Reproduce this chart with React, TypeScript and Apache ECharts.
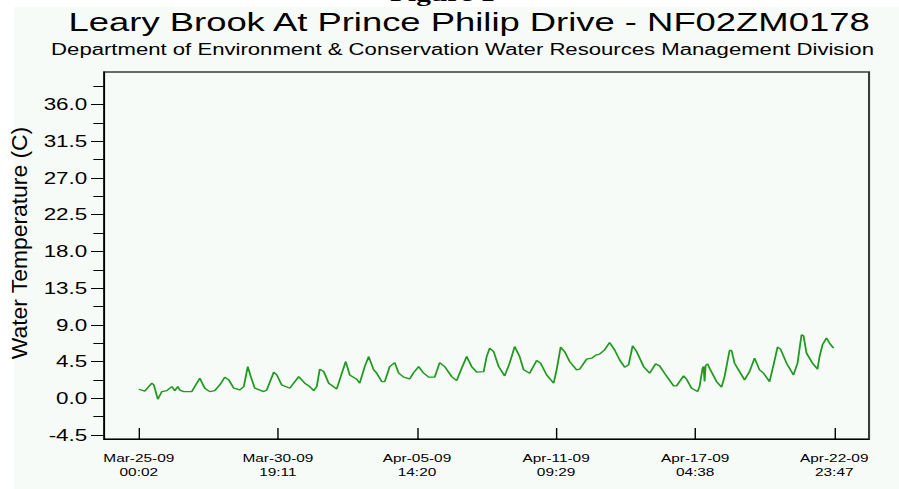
import React, { useEffect, useRef } from "react";
import * as echarts from "echarts";

// Hours since Mar-25-09 00:02 and water temperature (C)
const sampleHours = [
  0, 6, 13, 15, 19, 23, 28, 33, 36, 39, 41, 45, 53, 56, 61, 66, 71, 76, 81, 86,
  90, 95, 101, 105, 109, 112, 116, 125, 128, 135, 138, 143, 151, 160, 166, 171, 175, 178, 181, 185,
  190, 198, 202, 207, 211, 218, 221, 226, 230, 235, 238, 243, 246, 251, 256, 260, 265, 271, 275, 280,
  285, 290, 296, 301, 306, 313, 318, 323, 328, 333, 338, 345, 348, 351, 355, 360, 366, 371, 376, 381,
  385, 391, 398, 402, 408, 415, 418, 422, 426, 431, 438, 441, 448, 453, 458, 461, 466, 471, 476, 481,
  486, 490, 494, 498, 505, 511, 517, 521, 526, 535, 538, 545, 548, 553, 559, 561, 564, 565, 566, 567,
  569, 571, 578, 583, 586, 591, 593, 596, 606, 611, 616, 621, 625, 631, 635, 639, 642, 648, 655, 659,
  663, 665, 668, 674, 679, 681, 684, 688, 691, 695,
];
const waterTemp = [
  1.1, 0.86, 1.84, 1.63, -0.12, 0.81, 0.93, 1.43, 0.93, 1.43, 1.0, 0.81, 0.81, 1.43, 2.46, 1.23, 0.81, 0.93, 1.63, 2.58,
  2.25, 1.23, 1.02, 1.43, 3.88, 2.65, 1.23, 0.81, 1.02, 3.19, 2.86, 1.63, 1.23, 2.65, 1.84, 1.43, 0.93, 1.43, 3.56, 3.27,
  1.84, 1.14, 2.65, 4.5, 2.86, 2.33, 1.84, 3.88, 5.11, 3.48, 3.07, 2.04, 2.04, 3.88, 4.37, 3.07, 2.58, 2.37, 3.15, 3.88,
  3.07, 2.58, 2.58, 4.37, 3.88, 2.65, 2.16, 3.68, 5.11, 3.88, 3.19, 3.27, 5.11, 6.14, 5.72, 3.88, 2.74, 4.3, 6.34, 5.11,
  3.48, 3.07, 4.62, 4.3, 2.86, 1.84, 3.48, 6.27, 5.72, 4.5, 3.48, 3.56, 4.79, 4.91, 5.32, 5.4, 5.93, 6.83, 5.93, 4.7,
  3.81, 4.09, 6.43, 5.72, 3.88, 3.07, 4.21, 3.97, 3.07, 1.51, 1.51, 2.74, 2.33, 1.23, 0.81, 1.43, 3.68, 3.88, 2.04, 4.0,
  4.21, 3.68, 2.04, 1.35, 2.65, 5.85, 5.85, 4.3, 2.25, 3.27, 4.91, 3.48, 3.07, 2.04, 4.09, 6.27, 6.02, 4.3, 2.86, 4.3,
  7.78, 7.65, 5.53, 4.3, 3.56, 5.11, 6.55, 7.37, 6.76, 6.14,
];

// x ticks (hours since start) and their labels
const tickHours = [0, 139.15, 278.3, 417.45, 556.6, 695.75];
const tickLabels = [
  "Mar-25-09\n00:02",
  "Mar-30-09\n19:11",
  "Apr-05-09\n14:20",
  "Apr-11-09\n09:29",
  "Apr-17-09\n04:38",
  "Apr-22-09\n23:47",
];

// y ticks
const yLabelValues = [-4.5, 0, 4.5, 9, 13.5, 18, 22.5, 27, 31.5, 36];
const yMinorValues = [-2.25, 2.25, 6.75, 11.25, 15.75, 20.25, 24.75, 29.25, 33.75, 38.25];

const titleText = "Leary Brook At Prince Philip Drive - NF02ZM0178";
const subtitleText =
  "Department of Environment & Conservation Water Resources Management Division";
const yAxisTitle = "Water Temperature (C)";
const captionText = "Figure 1";

const SX = 899 / 642;

export default function App() {
  const ref = useRef<HTMLDivElement>(null);

  useEffect(() => {
    if (!ref.current) return;
    const chart = echarts.init(ref.current, undefined, { renderer: "svg" });
    const data = sampleHours.map((h, i) => [h, waterTemp[i]]);
    const font = "'Liberation Sans', Arial, sans-serif";
    chart.setOption({
      animation: false,
      backgroundColor: "transparent",
      grid: {
        left: 74.3,
        right: 21.4,
        top: 72,
        bottom: 50,
        show: true,
        borderColor: "#3a3a3a",
        borderWidth: 1.5,
        backgroundColor: "transparent",
      },
      graphic: [
        {
          type: "text",
          x: 316,
          y: 5,
          style: {
            text: captionText,
            font: "bold 21px 'Liberation Serif', serif",
            fill: "#000",
            textAlign: "center",
            textVerticalAlign: "bottom",
          },
        },
        {
          type: "text",
          x: 335,
          y: 22,
          style: {
            text: titleText,
            font: `26px ${font}`,
            fill: "#000",
            textAlign: "center",
            textVerticalAlign: "middle",
          },
        },
        {
          type: "text",
          x: 330.3,
          y: 50,
          style: {
            text: subtitleText,
            font: `15.8px ${font}`,
            fill: "#000",
            textAlign: "center",
            textVerticalAlign: "middle",
          },
        },
        {
          type: "text",
          x: 14.3,
          y: 243,
          rotation: Math.PI / 2,
          scaleX: 1.43,
          style: {
            text: yAxisTitle,
            font: `16px ${font}`,
            fill: "#000",
            textAlign: "center",
            textVerticalAlign: "middle",
          },
        },
      ],
      xAxis: {
        type: "value",
        min: -34.79,
        max: 730.54,
        splitLine: { show: false },
        axisLine: { show: true, onZero: false, lineStyle: { color: "#000", width: 1 } },
        axisTick: {
          show: true,
          inside: true,
          length: 11,
          customValues: tickHours,
          lineStyle: { color: "#000", width: 1 },
        },
        axisLabel: {
          customValues: tickHours,
          margin: 12,
          fontSize: 11,
          lineHeight: 14,
          fontFamily: font,
          color: "#000",
          formatter: (v: number) => {
            const i = tickHours.findIndex((t) => Math.abs(t - v) < 0.01);
            return i >= 0 ? tickLabels[i] : "";
          },
        },
      },
      yAxis: [
        {
          type: "value",
          min: -5,
          max: 40,
          splitLine: { show: false },
          axisLine: { show: true, onZero: false, lineStyle: { color: "#000", width: 1 } },
          axisTick: {
            show: true,
            length: 9.3,
            customValues: yLabelValues,
            lineStyle: { color: "#000", width: 1 },
          },
          axisLabel: {
            customValues: yLabelValues,
            margin: 12,
            fontSize: 16,
            fontFamily: font,
            color: "#000",
            formatter: (v: number) => v.toFixed(1),
          },
        },
        {
          type: "value",
          min: -5,
          max: 40,
          position: "left",
          splitLine: { show: false },
          axisLine: { show: false, onZero: false },
          axisTick: {
            show: true,
            length: 7.6,
            customValues: yMinorValues,
            lineStyle: { color: "#000", width: 1 },
          },
          axisLabel: { show: false },
        },
      ],
      series: [
        {
          type: "line",
          data,
          showSymbol: false,
          lineStyle: { color: "#1e9a1e", width: 1.3 },
        },
      ],
    });
    return () => chart.dispose();
  }, []);

  return (
    <div
      style={{
        position: "fixed",
        left: 0,
        top: 0,
        width: 899,
        height: 489,
        overflow: "hidden",
        background: "#fff",
      }}
    >
      <div
        style={{
          position: "absolute",
          left: 14,
          top: 7,
          width: 885,
          height: 482,
          background: "#f7fbf7",
        }}
      />
      <div
        ref={ref}
        style={{
          position: "absolute",
          left: 0,
          top: 0,
          width: 642,
          height: 489,
          transform: `scaleX(${SX})`,
          transformOrigin: "0 0",
        }}
      />
    </div>
  );
}
